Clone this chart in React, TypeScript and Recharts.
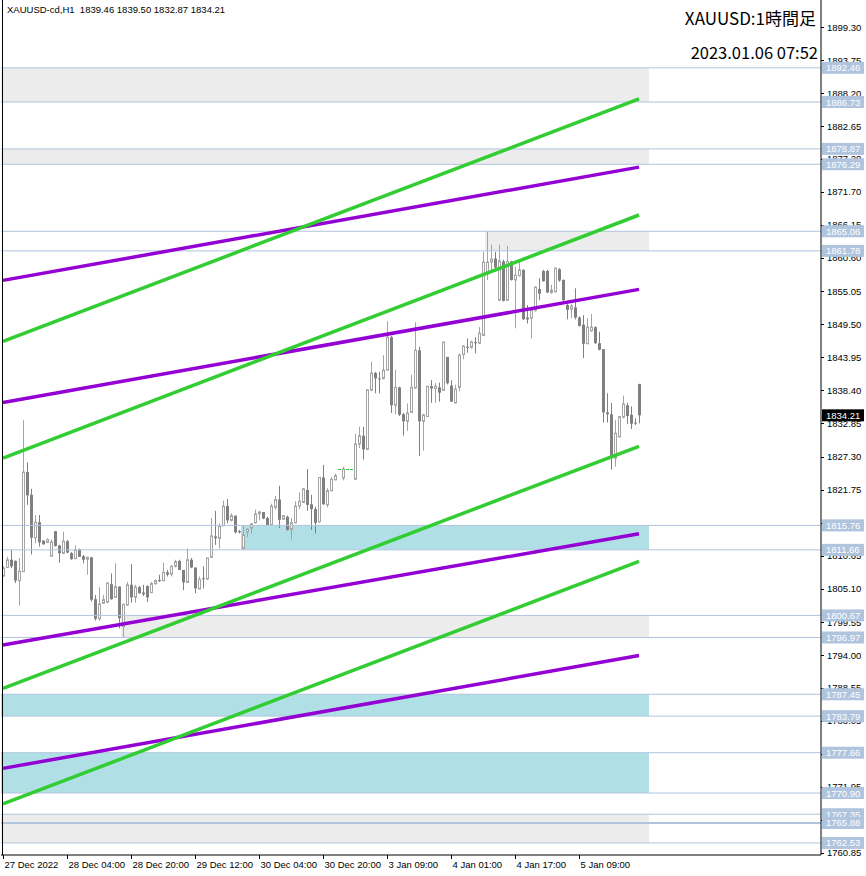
import React from 'react';
import { ComposedChart, Bar, XAxis, YAxis, ReferenceLine, ReferenceArea } from 'recharts';

// XAUUSD H1 candles, 27 Dec 2022 -> 6 Jan 2023
const opens = [
  1807.3, 1808.7, 1810.0, 1809.8, 1806.5, 1808.0, 1824.7, 1820.9, 1813.7, 1816.3,
  1813.2, 1812.9, 1810.6, 1814.8, 1812.4, 1811.1, 1813.1, 1811.1, 1810.2, 1811.7,
  1810.6, 1810.1, 1810.4, 1803.4, 1800.1, 1802.7, 1802.9, 1805.9, 1803.7, 1805.5,
  1798.8, 1802.4, 1805.8, 1803.7, 1805.4, 1804.5, 1805.6, 1804.5, 1806.0, 1806.6,
  1806.5, 1807.9, 1807.6, 1808.9, 1809.8, 1808.3, 1806.2, 1810.0, 1808.7, 1805.1,
  1806.9, 1806.8, 1810.4, 1813.9, 1813.6, 1815.7, 1819.0, 1816.6, 1817.4, 1814.8,
  1811.9, 1814.7, 1815.3, 1816.2, 1817.7, 1818.0, 1817.0, 1815.8, 1818.8, 1820.1,
  1816.8, 1817.2, 1815.1, 1816.2, 1819.0, 1819.6, 1821.7, 1819.3, 1818.5, 1816.4,
  1823.8, 1819.2, 1821.6, 1823.4, 1825.2, 1823.7, 1825.2, 1825.2, 1823.5, 1829.4,
  1830.8, 1828.5, 1838.4, 1841.3, 1840.4, 1840.4, 1841.8, 1847.3, 1835.9, 1838.9,
  1834.4, 1833.2, 1834.7, 1838.8, 1845.1, 1833.2, 1834.0, 1839.1, 1838.7, 1838.9,
  1838.4, 1844.0, 1839.2, 1836.3, 1838.9, 1844.4, 1845.7, 1845.6, 1846.5, 1846.3,
  1847.6, 1858.3, 1859.9, 1860.5, 1853.5, 1860.0, 1853.5, 1860.0, 1856.9, 1857.6,
  1858.6, 1850.6, 1850.5, 1851.8, 1855.4, 1858.4, 1858.4, 1854.8, 1854.9, 1858.7,
  1856.9, 1852.7, 1852.0, 1852.3, 1850.6, 1849.4, 1846.2, 1848.4, 1849.0, 1846.3,
  1845.3, 1834.7, 1834.4, 1827.0, 1830.6, 1833.9, 1835.9, 1834.3, 1833.0, 1839.46,
];
const highs = [
  1808.9, 1810.5, 1811.6, 1809.9, 1810.3, 1833.4, 1826.3, 1821.9, 1817.5, 1817.5,
  1813.3, 1813.6, 1813.4, 1814.8, 1812.5, 1814.7, 1813.3, 1811.3, 1812.4, 1811.9,
  1810.8, 1810.5, 1810.5, 1804.1, 1805.4, 1804.1, 1806.2, 1807.7, 1809.4, 1805.5,
  1802.7, 1806.3, 1809.3, 1805.8, 1805.6, 1805.8, 1805.7, 1806.3, 1806.7, 1807.5,
  1809.5, 1808.3, 1809.1, 1810.0, 1810.0, 1808.3, 1811.9, 1810.3, 1808.7, 1807.2,
  1808.9, 1810.3, 1817.0, 1818.2, 1816.1, 1819.9, 1820.2, 1817.8, 1817.4, 1815.0,
  1815.76, 1815.3, 1816.2, 1818.4, 1818.2, 1818.0, 1817.2, 1819.4, 1820.7, 1822.4,
  1817.5, 1817.4, 1817.0, 1819.8, 1821.3, 1822.0, 1825.2, 1820.9, 1818.9, 1823.8,
  1825.9, 1822.0, 1823.9, 1824.4, 1825.2, 1825.6, 1825.2, 1825.2, 1831.1, 1832.3,
  1832.3, 1838.6, 1843.2, 1841.5, 1841.5, 1844.3, 1850.0, 1847.5, 1841.9, 1839.0,
  1834.6, 1836.2, 1841.0, 1849.8, 1845.7, 1834.4, 1839.1, 1840.1, 1839.6, 1839.7,
  1846.5, 1844.0, 1840.1, 1839.3, 1844.6, 1846.0, 1847.1, 1846.7, 1847.3, 1849.0,
  1861.6, 1865.06, 1862.8, 1861.6, 1862.8, 1860.3, 1862.6, 1860.1, 1859.1, 1860.4,
  1858.7, 1852.7, 1852.1, 1855.8, 1857.2, 1858.6, 1858.6, 1856.1, 1858.9, 1858.9,
  1857.0, 1853.0, 1852.9, 1855.5, 1850.8, 1851.0, 1850.5, 1851.2, 1849.1, 1848.2,
  1845.3, 1837.9, 1836.3, 1833.4, 1834.1, 1837.5, 1836.3, 1835.7, 1833.7, 1839.50,
];
const lows = [
  1807.1, 1808.6, 1808.6, 1806.1, 1802.3, 1808.0, 1819.2, 1810.9, 1812.8, 1812.2,
  1812.5, 1812.8, 1810.6, 1812.2, 1809.5, 1811.0, 1811.1, 1810.0, 1810.1, 1810.5,
  1809.4, 1807.5, 1803.0, 1799.8, 1799.8, 1802.6, 1802.7, 1803.3, 1803.7, 1798.5,
  1796.97, 1802.3, 1802.8, 1802.8, 1804.3, 1803.9, 1802.9, 1804.4, 1805.8, 1806.3,
  1806.4, 1807.2, 1807.2, 1808.7, 1808.3, 1804.9, 1806.2, 1808.6, 1804.4, 1805.1,
  1805.2, 1806.6, 1810.4, 1812.5, 1811.9, 1815.6, 1816.1, 1816.4, 1814.4, 1814.4,
  1811.66, 1813.8, 1814.4, 1816.1, 1816.6, 1816.8, 1815.7, 1815.7, 1818.4, 1815.3,
  1816.7, 1814.9, 1813.4, 1816.1, 1818.5, 1819.5, 1818.2, 1815.0, 1814.4, 1816.2,
  1819.2, 1818.8, 1821.4, 1823.3, 1825.2, 1823.3, 1825.2, 1825.2, 1823.4, 1828.7,
  1826.8, 1828.4, 1838.4, 1837.9, 1837.9, 1840.2, 1841.7, 1834.6, 1834.4, 1834.1,
  1830.8, 1831.6, 1834.6, 1838.7, 1827.4, 1828.3, 1833.9, 1836.3, 1836.3, 1836.5,
  1838.3, 1839.4, 1836.5, 1836.2, 1838.2, 1843.6, 1844.7, 1845.4, 1844.6, 1846.2,
  1847.6, 1856.9, 1858.3, 1858.3, 1853.4, 1853.3, 1853.4, 1856.8, 1848.8, 1857.5,
  1850.2, 1849.6, 1847.1, 1851.6, 1853.5, 1856.6, 1854.7, 1854.6, 1854.9, 1856.6,
  1853.4, 1850.3, 1850.5, 1850.3, 1849.1, 1843.8, 1846.2, 1848.2, 1846.2, 1845.1,
  1833.0, 1833.0, 1825.1, 1825.6, 1830.5, 1833.7, 1832.8, 1831.9, 1832.6, 1832.87,
];
const closes = [
  1808.6, 1810.0, 1808.9, 1806.5, 1808.1, 1824.7, 1820.8, 1813.7, 1816.3, 1812.9,
  1812.6, 1813.4, 1813.0, 1812.3, 1811.1, 1813.1, 1811.2, 1810.1, 1811.7, 1810.5,
  1810.0, 1810.4, 1803.3, 1800.1, 1802.6, 1803.3, 1806.1, 1803.4, 1805.5, 1800.2,
  1802.5, 1805.8, 1803.7, 1805.4, 1804.4, 1804.2, 1803.7, 1806.0, 1806.5, 1806.4,
  1807.9, 1807.5, 1808.9, 1809.7, 1808.3, 1806.2, 1810.0, 1808.7, 1805.2, 1806.7,
  1806.8, 1810.3, 1814.0, 1813.6, 1815.7, 1819.0, 1816.6, 1817.4, 1814.6, 1814.6,
  1814.2, 1815.1, 1816.0, 1817.7, 1818.0, 1816.9, 1815.8, 1819.0, 1820.1, 1816.7,
  1817.4, 1815.0, 1816.2, 1819.0, 1819.8, 1821.9, 1819.2, 1818.5, 1816.2, 1823.8,
  1819.3, 1821.6, 1823.5, 1824.1, 1825.2, 1825.2, 1825.2, 1825.2, 1829.4, 1830.8,
  1828.5, 1838.5, 1841.3, 1840.4, 1840.3, 1841.8, 1847.3, 1835.9, 1838.9, 1834.3,
  1833.2, 1834.6, 1838.9, 1845.1, 1833.2, 1834.3, 1839.1, 1838.7, 1839.1, 1838.0,
  1846.5, 1839.6, 1836.5, 1838.6, 1844.3, 1845.8, 1845.6, 1846.5, 1846.3, 1848.0,
  1859.9, 1859.9, 1860.4, 1859.0, 1860.1, 1853.4, 1860.0, 1856.9, 1857.7, 1858.6,
  1850.3, 1850.3, 1851.9, 1855.7, 1854.6, 1856.7, 1854.8, 1855.2, 1858.9, 1856.8,
  1853.5, 1851.9, 1852.5, 1850.6, 1849.2, 1846.2, 1849.0, 1849.0, 1846.3, 1845.2,
  1834.7, 1834.4, 1827.3, 1831.2, 1834.0, 1836.1, 1834.1, 1832.8, 1832.9, 1834.21,
];

// time axis: a label every 16 bars
const timeTickIdx = [0, 16, 32, 48, 64, 80, 96, 112, 128, 144];
const timeLabels = [
  '27 Dec 2022', '28 Dec 04:00', '28 Dec 20:00', '29 Dec 12:00', '30 Dec 04:00',
  '30 Dec 20:00', '3 Jan 09:00', '4 Jan 01:00', '4 Jan 17:00', '5 Jan 09:00',
];

const priceTicks = [
  1899.30, 1893.75, 1888.20, 1882.65, 1877.20, 1871.70, 1866.15, 1860.60, 1855.05,
  1849.50, 1843.95, 1838.40, 1832.85, 1827.30, 1821.75, 1816.20, 1810.65, 1805.10,
  1799.55, 1794.00, 1788.55, 1783.05, 1777.50, 1771.95, 1766.40, 1760.85,
];

// supply / demand zones
const zoneTop = [1892.46, 1878.87, 1865.06, 1815.76, 1800.67, 1787.45, 1777.66, 1767.35];
const zoneBottom = [1886.73, 1876.29, 1861.78, 1811.66, 1796.97, 1783.79, 1770.90, 1762.53];
const zoneStartBar = [0, 0, 121, 60, 30, 0, 0, 0];
const zoneKind = ['gray', 'gray', 'gray', 'blue', 'gray', 'blue', 'blue', 'gray'];
const levelPrices = [
  1892.46, 1886.73, 1878.87, 1876.29, 1865.06, 1861.78, 1815.76, 1811.66, 1800.67,
  1796.97, 1787.45, 1783.79, 1777.66, 1770.90, 1767.35, 1765.88, 1762.53,
];

// channel lines: price at first bar, price at last bar
const greenStart = [1846.59, 1827.04, 1788.43, 1769.07];
const greenEnd = [1887.25, 1867.79, 1829.01, 1809.73];
const purpleStart = [1856.83, 1836.35, 1795.72, 1775.03];
const purpleEnd = [1875.82, 1855.32, 1814.36, 1793.94];

const lastPrice = 1834.21;

const SLOTS = 205;
const ZONE_END_BAR = 161;
const FONT = '"Liberation Sans", Arial, sans-serif';
const UP = '#a4a4a4';
const DOWN = '#808080';
const DOJI = '#32cd32';
const LEVEL = '#b0c4de';

const data = Array.from({ length: SLOTS }, (_, i) =>
  i < opens.length
    ? { i, o: opens[i], h: highs[i], l: lows[i], c: closes[i], range: [lows[i], highs[i]] }
    : { i }
);

// plain scale labels first, then the tags, so the tags are painted over them
const axisTicks = [...priceTicks, ...levelPrices, lastPrice];

function Candle(props: any) {
  const { x, y, width, height, payload } = props;
  if (!payload || payload.o == null) return null;
  const { o, h, l, c } = payload;
  const cx = Math.floor(x + width / 2) + 0.5;
  const py = (p: number) => (h === l ? y : y + ((h - p) / (h - l)) * height);
  if (o === c && h === l) {
    const yy = Math.round(y) + 0.5;
    return <line x1={cx - 1.5} x2={cx + 1.5} y1={yy} y2={yy} stroke={DOJI} />;
  }
  const up = c >= o;
  const col = up ? UP : DOWN;
  const top = py(Math.max(o, c));
  const bot = py(Math.min(o, c));
  return (
    <g>
      <line x1={cx} x2={cx} y1={py(h)} y2={py(l)} stroke={col} />
      {up ? (
        <rect x={cx - 1} y={top} width={2} height={Math.max(bot - top, 1)} fill="#fff" stroke={col} />
      ) : (
        <rect x={cx - 1.5} y={top} width={3} height={Math.max(bot - top, 1)} fill={col} />
      )}
    </g>
  );
}

function TimeTick(props: any) {
  const { x, y, payload } = props;
  const k = timeTickIdx.indexOf(payload.value);
  const tx = Math.floor(x) + 0.5;
  return (
    <g>
      <line x1={tx} x2={tx} y1={y} y2={y + 4} stroke="#000" />
      <text x={tx + 1} y={y + 13} fontSize={9.5} fontFamily={FONT} fill="#000">
        {timeLabels[k]}
      </text>
    </g>
  );
}

function PriceTick(props: any) {
  const { x, y, payload } = props;
  const v = Number(payload.value);
  const isLast = v === lastPrice;
  if (isLast || levelPrices.includes(v)) {
    return (
      <g>
        <rect x={x + 1} y={y - 6} width={42} height={12} fill={isLast ? '#000' : LEVEL} />
        <text x={x + 5} y={y + 3.5} fontSize={9.5} fontFamily={FONT} fill="#fff">
          {v.toFixed(2)}
        </text>
      </g>
    );
  }
  const ty = Math.round(y) + 0.5;
  return (
    <g>
      <line x1={x} x2={x + 3} y1={ty} y2={ty} stroke="#000" />
      <text x={x + 6} y={y + 3.5} fontSize={9.5} fontFamily={FONT} fill="#000">
        {v.toFixed(2)}
      </text>
    </g>
  );
}

export default function App() {
  return (
    <div style={{ position: 'absolute', left: 0, top: 0, width: 866, height: 876, background: '#fff' }}>
      <ComposedChart
        width={866}
        height={876}
        data={data}
        margin={{ top: 0, right: 0, bottom: 0, left: 1 }}
        barCategoryGap={0}
      >
        <XAxis
          dataKey="i"
          type="category"
          ticks={timeTickIdx}
          interval={0}
          tick={<TimeTick />}
          tickLine={false}
          tickSize={0}
          tickMargin={0}
          height={21}
          axisLine={{ stroke: '#000' }}
        />
        <YAxis
          orientation="right"
          type="number"
          domain={[1760.51, 1903.83]}
          allowDataOverflow
          ticks={axisTicks}
          interval={0}
          tick={<PriceTick />}
          tickLine={false}
          tickSize={0}
          tickMargin={0}
          width={45}
          axisLine={{ stroke: '#000' }}
        />
        {zoneTop.map((top, k) => (
          <ReferenceArea
            key={'z' + k}
            x1={zoneStartBar[k]}
            x2={ZONE_END_BAR}
            y1={zoneBottom[k]}
            y2={top}
            fill={zoneKind[k] === 'blue' ? '#b0e0e6' : '#ececec'}
            fillOpacity={1}
            stroke="none"
          />
        ))}
        {levelPrices.map((p) => (
          <ReferenceLine key={'l' + p} y={p} stroke={LEVEL} strokeWidth={p === 1765.88 ? 2 : 1} />
        ))}
        <Bar dataKey="range" shape={<Candle />} isAnimationActive={false} />
        {purpleStart.map((p, k) => (
          <ReferenceLine
            key={'p' + k}
            segment={[{ x: 0, y: p }, { x: opens.length - 1, y: purpleEnd[k] }]}
            stroke="#9400d3"
            strokeWidth={3.5}
          />
        ))}
        {greenStart.map((p, k) => (
          <ReferenceLine
            key={'g' + k}
            segment={[{ x: 0, y: p }, { x: opens.length - 1, y: greenEnd[k] }]}
            stroke="#32cd32"
            strokeWidth={3.5}
          />
        ))}
      </ComposedChart>
      <div style={{ position: 'absolute', left: 2, top: 0, width: 1, height: 855, background: '#000' }} />
      <div
        style={{
          position: 'absolute', left: 7, top: 5, fontFamily: FONT, fontSize: 9.5,
          lineHeight: 1, whiteSpace: 'pre', color: '#000',
        }}
      >
        {'XAUUSD-cd,H1  1839.46 1839.50 1832.87 1834.21'}
      </div>
      <div
        style={{
          position: 'absolute', right: 50, top: 9, fontFamily: '"Noto Sans CJK JP", "Noto Sans", sans-serif',
          fontSize: 17, lineHeight: 1, whiteSpace: 'pre', color: '#000', textAlign: 'right',
        }}
      >
        XAUUSD:1時間足
      </div>
      <div
        style={{
          position: 'absolute', right: 48, top: 44, fontFamily: '"Noto Sans CJK JP", "Noto Sans", sans-serif',
          fontSize: 16.5, lineHeight: 1, whiteSpace: 'pre', color: '#000', textAlign: 'right',
        }}
      >
        2023.01.06 07:52
      </div>
    </div>
  );
}
